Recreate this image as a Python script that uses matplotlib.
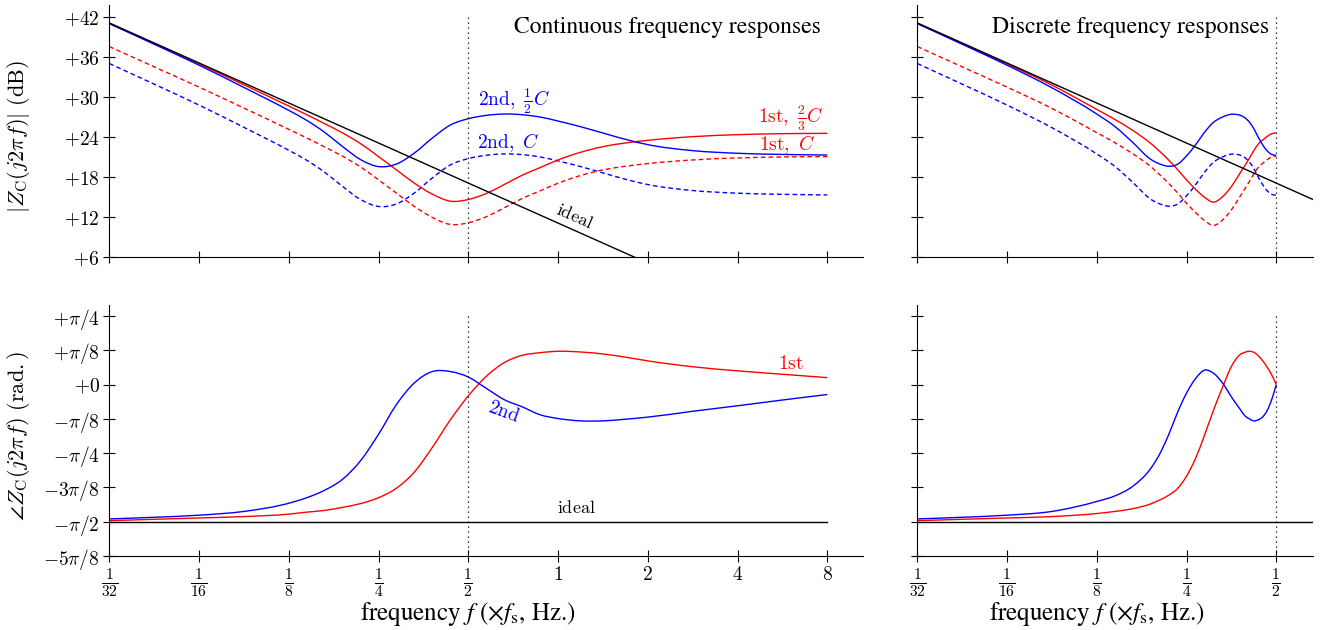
import numpy as np
import matplotlib
matplotlib.use("Agg")
import matplotlib.pyplot as plt
from matplotlib.path import Path
from matplotlib.patches import PathPatch

plt.rcParams['mathtext.fontset'] = 'cm'
plt.rcParams['font.family'] = ['DejaVu Serif']

# ---------------- data ----------------
# continuous-frequency responses
f_cont = [0.03125, 0.0442, 0.0625, 0.0884, 0.125, 0.1436, 0.1649, 0.1895, 0.2176,
          0.25, 0.2872, 0.3299, 0.3789, 0.4353, 0.5, 0.5743, 0.6598, 0.7579, 0.8706,
          1.0, 1.1892, 1.4142, 1.6818, 2.0, 2.8284, 4.0, 5.6569, 8.0]
mag_2nd_half_cont = [41.05, 37.95, 34.8, 31.45, 28.0, 26.5, 24.7, 22.55, 20.6, 19.55,
                     19.94, 21.6, 23.85, 25.8, 26.75, 27.25, 27.46, 27.35, 27.0, 26.4,
                     25.55, 24.6, 23.65, 22.85, 21.95, 21.55, 21.38, 21.29]
mag_2nd_full_cont = [35.05, 31.95, 28.8, 25.45, 22.0, 20.5, 18.7, 16.55, 14.6, 13.55,
                     13.94, 15.6, 17.85, 19.8, 20.75, 21.25, 21.46, 21.35, 21.0, 20.4,
                     19.55, 18.6, 17.65, 16.85, 15.95, 15.55, 15.38, 15.29]
mag_1st_23_cont = [41.1, 38.05, 35.0, 31.85, 28.65, 27.35, 26.0, 24.6, 23.0, 21.05,
                   19.05, 17.05, 15.4, 14.35, 14.6, 15.5, 16.85, 18.25, 19.4, 20.55,
                   21.7, 22.55, 23.1, 23.5, 24.05, 24.35, 24.5, 24.55]
mag_1st_full_cont = [37.6, 34.55, 31.5, 28.35, 25.15, 23.85, 22.5, 21.1, 19.5, 17.55,
                     15.55, 13.55, 11.9, 10.85, 11.1, 12.0, 13.35, 14.75, 15.9, 17.05,
                     18.2, 19.05, 19.6, 20.0, 20.55, 20.85, 21.0, 21.05]
ph_2nd_cont = [-1.539, -1.520, -1.496, -1.453, -1.359, -1.296, -1.210, -1.084, -0.872,
               -0.569, -0.228, 0.020, 0.149, 0.149, 0.086, -0.043, -0.173, -0.255,
               -0.346, -0.389, -0.416, -0.416, -0.397, -0.373, -0.306, -0.243, -0.177, -0.114]
ph_1st_cont = [-1.559, -1.543, -1.528, -1.512, -1.484, -1.461, -1.441, -1.406, -1.363,
               -1.296, -1.186, -1.001, -0.719, -0.404, -0.130, 0.094, 0.251, 0.334,
               0.365, 0.381, 0.373, 0.350, 0.314, 0.271, 0.204, 0.157, 0.118, 0.079]

# discrete-frequency responses
f_disc = [0.03125, 0.0442, 0.0625, 0.0884, 0.125, 0.1436, 0.1649, 0.1895, 0.2031,
          0.2176, 0.2333, 0.25, 0.2679, 0.2872, 0.3078, 0.3299, 0.3536, 0.3789, 0.3923,
          0.4061, 0.4204, 0.4353, 0.4506, 0.4665, 0.4830, 0.5]
mag_2nd_half_disc = [41.05, 37.95, 34.8, 31.4, 27.45, 25.6, 23.2, 20.65, 19.95, 19.6,
                     19.9, 21.15, 22.8, 24.7, 26.2, 27.0, 27.42, 27.25, 26.9, 26.25,
                     25.25, 23.95, 22.8, 21.9, 21.37, 21.25]
mag_2nd_full_disc = [35.05, 31.95, 28.8, 25.4, 21.45, 19.6, 17.2, 14.65, 13.95, 13.6,
                     13.9, 15.15, 16.8, 18.7, 20.2, 21.0, 21.42, 21.25, 20.9, 20.25,
                     19.25, 17.95, 16.8, 15.9, 15.37, 15.25]
mag_1st_23_disc = [41.1, 38.05, 35.0, 31.8, 28.15, 26.65, 25.0, 23.05, 21.85, 20.55,
                   19.1, 17.55, 16.15, 14.95, 14.2, 15.0, 16.55, 18.65, 19.7, 20.8,
                   21.95, 22.95, 23.55, 24.1, 24.5, 24.6]
mag_1st_full_disc = [37.6, 34.55, 31.5, 28.3, 24.65, 23.15, 21.5, 19.55, 18.35, 17.05,
                     15.6, 14.05, 12.65, 11.45, 10.7, 11.5, 13.05, 15.15, 16.2, 17.3,
                     18.45, 19.45, 20.05, 20.6, 21.0, 21.1]
ph_2nd_disc = [-1.539, -1.520, -1.496, -1.453, -1.339, -1.276, -1.166, -0.962, -0.797,
               -0.577, -0.318, -0.098, 0.067, 0.165, 0.130, 0.020, -0.141, -0.287,
               -0.357, -0.393, -0.416, -0.404, -0.369, -0.295, -0.169, 0.0]
ph_1st_disc = [-1.559, -1.543, -1.528, -1.512, -1.477, -1.453, -1.422, -1.367, -1.323,
               -1.268, -1.190, -1.049, -0.848, -0.581, -0.295, -0.035, 0.208, 0.346,
               0.369, 0.381, 0.369, 0.330, 0.271, 0.196, 0.110, 0.0]

# ideal capacitor
ideal_f_cont = [0.03125, 8.0]
ideal_db_cont = [41.15, -7.0]
ideal_f_disc = [0.03125, 0.664]
ideal_db_disc = [41.15, 14.6]
ideal_phase = -np.pi / 2

nyquist = 0.5

# ticks
xt_cont = [1/32, 1/16, 1/8, 1/4, 1/2, 1, 2, 4, 8]
xl_cont = [r'$\frac{1}{32}$', r'$\frac{1}{16}$', r'$\frac{1}{8}$', r'$\frac{1}{4}$',
           r'$\frac{1}{2}$', r'$1$', r'$2$', r'$4$', r'$8$']
xt_disc = [1/32, 1/16, 1/8, 1/4, 1/2]
xl_disc = xl_cont[:5]
yt_mag = [6, 12, 18, 24, 30, 36, 42]
yl_mag = [r'$+6$', r'$+12$', r'$+18$', r'$+24$', r'$+30$', r'$+36$', r'$+42$']
yt_ph = [k * np.pi / 8 for k in [-5, -4, -3, -2, -1, 0, 1, 2]]
yl_ph = [r'$-5\pi/8$', r'$-\pi/2$', r'$-3\pi/8$', r'$-\pi/4$', r'$-\pi/8$',
         r'$+0$', r'$+\pi/8$', r'$+\pi/4$']

BLUE = (0, 0, 1)
RED = (1, 0, 0)
DASH = (0, (3.4, 2.2))
DOT = (0, (1, 3))
LW = 1.0


def smooth(ax, xs, ys, **kw):
    """Draw a smooth curve through the given points (cubic Hermite in log2 x)."""
    u = np.log2(np.asarray(xs, float))
    y = np.asarray(ys, float)
    n = len(u)
    h = np.diff(u)
    d = np.diff(y) / h
    m = np.empty(n)
    m[0] = d[0]
    m[-1] = d[-1]
    for i in range(1, n - 1):
        m[i] = (d[i] * h[i - 1] + d[i - 1] * h[i]) / (h[i - 1] + h[i])
    verts = [(u[0], y[0])]
    codes = [Path.MOVETO]
    for i in range(n - 1):
        verts += [(u[i] + h[i] / 3, y[i] + m[i] * h[i] / 3),
                  (u[i + 1] - h[i] / 3, y[i + 1] - m[i + 1] * h[i] / 3),
                  (u[i + 1], y[i + 1])]
        codes += [Path.CURVE4] * 3
    verts = np.array(verts)
    verts[:, 0] = 2.0 ** verts[:, 0]
    patch = PathPatch(Path(verts, codes), fill=False, capstyle='butt', **kw)
    ax.add_patch(patch)
    return patch


W, H = 1320, 630
fig = plt.figure(figsize=(W / 100, H / 100), dpi=100)

def px_axes(x0, x1, y0, y1):
    return fig.add_axes([x0 / W, 1 - y1 / H, (x1 - x0) / W, (y1 - y0) / H])

ax_mc = px_axes(109.3, 863, 5, 256.7)
ax_md = px_axes(917.3, 1313, 5, 256.7)
ax_pc = px_axes(109.3, 863, 305, 556)
ax_pd = px_axes(917.3, 1313, 305, 556)

for ax in (ax_mc, ax_md, ax_pc, ax_pd):
    ax.set_xscale('log', base=2)
    ax.spines['top'].set_visible(False)
    ax.spines['right'].set_visible(False)
    ax.spines['left'].set_linewidth(0.8)
    ax.spines['bottom'].set_linewidth(0.8)
    ax.tick_params(direction='inout', length=8, width=0.8, labelsize=14, pad=3)
    ax.patch.set_alpha(0)

xmax_c = 10.54
xmax_d = 0.664
ax_mc.set_xlim(1/32, xmax_c); ax_pc.set_xlim(1/32, xmax_c)
ax_md.set_xlim(1/32, xmax_d); ax_pd.set_xlim(1/32, xmax_d)
for ax in (ax_mc, ax_md):
    ax.set_ylim(6, 43.85)
    ax.set_yticks(yt_mag)
for ax in (ax_pc, ax_pd):
    ax.set_ylim(-5 * np.pi / 8, 2.32 * np.pi / 8)
    ax.set_yticks(yt_ph)
ax_mc.set_yticklabels(yl_mag)
ax_pc.set_yticklabels(yl_ph)
ax_md.set_yticklabels([])
ax_pd.set_yticklabels([])

ax_mc.set_xticks(xt_cont); ax_mc.set_xticklabels([])
ax_pc.set_xticks(xt_cont); ax_pc.set_xticklabels(xl_cont)
ax_md.set_xticks(xt_disc); ax_md.set_xticklabels([])
ax_pd.set_xticks(xt_disc); ax_pd.set_xticklabels(xl_disc)
for ax in (ax_mc, ax_md, ax_pc, ax_pd):
    ax.minorticks_off()
for ax in (ax_pc, ax_pd):
    for lbl in ax.get_xticklabels():
        if 'frac' in lbl.get_text():
            lbl.set_fontsize(16)
        else:
            lbl.set_fontsize(14)

# ---- magnitude, continuous
ax = ax_mc
ax.plot([nyquist, nyquist], [42, 6], color='k', lw=0.9, ls=DOT)
ax.plot(ideal_f_cont, ideal_db_cont, color='k', lw=LW)
smooth(ax, f_cont, mag_1st_full_cont, edgecolor=RED, lw=LW, ls=DASH)
smooth(ax, f_cont, mag_2nd_full_cont, edgecolor=BLUE, lw=LW, ls=DASH)
smooth(ax, f_cont, mag_1st_23_cont, edgecolor=RED, lw=LW)
smooth(ax, f_cont, mag_2nd_half_cont, edgecolor=BLUE, lw=LW)
ax.text(0.539, 28.65, r'$\mathrm{2nd},\ \frac{1}{2}C$', color=BLUE, fontsize=14, ha='left', va='baseline')
ax.text(0.536, 22.4, r'$\mathrm{2nd},\ C$', color=BLUE, fontsize=14, ha='left', va='baseline')
ax.text(7.74, 26.05, r'$\mathrm{1st},\ \frac{2}{3}C$', color=RED, fontsize=14, ha='right', va='baseline')
ax.text(7.27, 22.04, r'$\mathrm{1st},\ C$', color=RED, fontsize=14, ha='right', va='baseline')
ax.text(1.14, 12.1, r'$\mathrm{ideal}$', color='k', fontsize=13, ha='center', va='center', rotation=-24)
ax.text(0.944, 0.913, 'Continuous frequency responses', transform=ax.transAxes,
        fontsize=17, family='STIXGeneral', ha='right', va='center')
ax.set_ylabel(r'$|Z_{\mathrm{C}}(j2\pi f)|\ (\mathrm{dB})$', fontsize=16)
ax.yaxis.set_label_coords(-(109.3 - 32) / 753.7, (256.7 - 137) / 251.7)

# ---- magnitude, discrete
ax = ax_md
ax.plot([nyquist, nyquist], [42, 6], color='k', lw=0.9, ls=DOT)
ax.plot(ideal_f_disc, ideal_db_disc, color='k', lw=LW)
smooth(ax, f_disc, mag_1st_full_disc, edgecolor=RED, lw=LW, ls=DASH)
smooth(ax, f_disc, mag_2nd_full_disc, edgecolor=BLUE, lw=LW, ls=DASH)
smooth(ax, f_disc, mag_1st_23_disc, edgecolor=RED, lw=LW)
smooth(ax, f_disc, mag_2nd_half_disc, edgecolor=BLUE, lw=LW)
ax.text(0.889, 0.913, 'Discrete frequency responses', transform=ax.transAxes,
        fontsize=17, family='STIXGeneral', ha='right', va='center')

# ---- phase, continuous
ax = ax_pc
ax.plot([nyquist, nyquist], [np.pi / 4, -5 * np.pi / 8], color='k', lw=0.9, ls=DOT)
ax.plot([1/32, 8], [ideal_phase, ideal_phase], color='k', lw=LW)
smooth(ax, f_cont, ph_1st_cont, edgecolor=RED, lw=LW)
smooth(ax, f_cont, ph_2nd_cont, edgecolor=BLUE, lw=LW)
ax.text(6.06, 0.23, r'$\mathrm{1st}$', color=RED, fontsize=14, ha='center', va='center')
ax.text(0.659, -0.31, r'$\mathrm{2nd}$', color=BLUE, fontsize=14, ha='center', va='center', rotation=-20)
ax.text(1.15, -1.413, r'$\mathrm{ideal}$', color='k', fontsize=13, ha='center', va='center')
ax.set_ylabel(r'$\angle Z_{\mathrm{C}}(j2\pi f)\ (\mathrm{rad.})$', fontsize=16)
ax.yaxis.set_label_coords(-(109.3 - 32) / 753.7, (556 - 436) / 251)
ax.set_xlabel(r'frequency $f$ ($\times f_{\mathrm{s}}$, Hz.)', fontsize=18,
              family='STIXGeneral', math_fontfamily='stix')
ax.xaxis.set_label_coords((468.3 - 109.3) / 753.7, -(600 - 556) / 251)

# ---- phase, discrete
ax = ax_pd
ax.plot([nyquist, nyquist], [np.pi / 4, -5 * np.pi / 8], color='k', lw=0.9, ls=DOT)
ax.plot([1/32, xmax_d], [ideal_phase, ideal_phase], color='k', lw=LW)
smooth(ax, f_disc, ph_1st_disc, edgecolor=RED, lw=LW)
smooth(ax, f_disc, ph_2nd_disc, edgecolor=BLUE, lw=LW)
ax.set_xlabel(r'frequency $f$ ($\times f_{\mathrm{s}}$, Hz.)', fontsize=18,
              family='STIXGeneral', math_fontfamily='stix')
ax.xaxis.set_label_coords((1097 - 917.3) / 395.7, -(600 - 556) / 251)

fig.savefig('out.png', dpi=100)
